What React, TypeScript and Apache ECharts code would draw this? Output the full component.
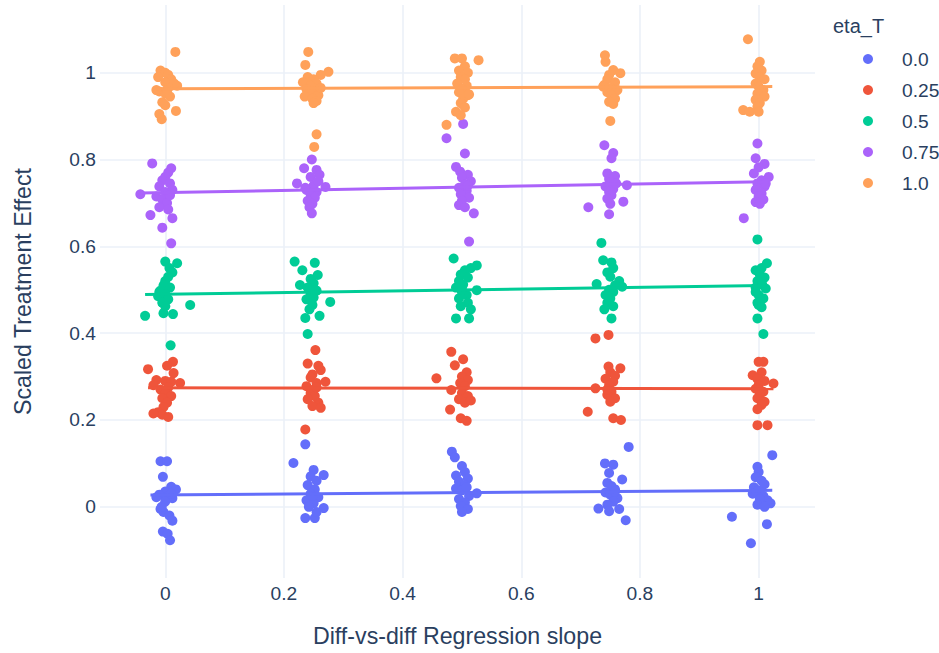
import React, { useEffect, useRef } from "react";
import * as echarts from "echarts";

const SERIES_NAMES = ["0.0", "0.25", "0.5", "0.75", "1.0"];
const COLORS = ["#636efa", "#EF553B", "#00cc96", "#ab63fa", "#FFA15A"];
const X_TITLE = "Diff-vs-diff Regression slope";
const Y_TITLE = "Scaled Treatment Effect";
const LEGEND_TITLE = "eta_T";

// eta_T = 0.0
const pointsEta00: number[][] = [
  [-0.008, 0.105], [0.003, 0.105], [-0.004, 0.069], [0.01, 0.046], [0.018, 0.04], [0.0, 0.035], [-0.01, 0.028],
  [0.005, 0.025], [0.012, 0.02], [-0.015, 0.022], [0.0, 0.012], [-0.008, -0.005], [-0.003, -0.012], [0.007, -0.02],
  [0.012, -0.032], [-0.004, -0.057], [0.004, -0.062], [0.008, -0.077], [0.01, 0.03], [-0.006, 0.0],
  [0.236, 0.144], [0.216, 0.101], [0.25, 0.085], [0.267, 0.073], [0.245, 0.07], [0.255, 0.06], [0.24, 0.05],
  [0.252, 0.04], [0.245, 0.03], [0.258, 0.022], [0.238, 0.015], [0.25, 0.008], [0.242, 0.0], [0.267, -0.003],
  [0.236, -0.026], [0.252, -0.026], [0.248, 0.025], [0.255, -0.012],
  [0.483, 0.127], [0.488, 0.114], [0.5, 0.094], [0.505, 0.08], [0.49, 0.072], [0.51, 0.065], [0.495, 0.058],
  [0.505, 0.05], [0.49, 0.042], [0.5, 0.038], [0.512, 0.025], [0.525, 0.031], [0.495, 0.018], [0.505, 0.01],
  [0.498, 0.002], [0.51, -0.005], [0.5, -0.012], [0.508, 0.045],
  [0.781, 0.138], [0.741, 0.1], [0.755, 0.097], [0.77, 0.063], [0.748, 0.078], [0.745, 0.055], [0.752, 0.048],
  [0.758, 0.04], [0.742, 0.033], [0.75, 0.028], [0.762, 0.02], [0.755, 0.012], [0.745, 0.005], [0.73, -0.004],
  [0.765, -0.005], [0.748, -0.01], [0.776, -0.031], [0.758, 0.035],
  [1.023, 0.119], [0.998, 0.092], [1.0, 0.08], [0.995, 0.068], [1.005, 0.06], [1.01, 0.052], [0.992, 0.045],
  [1.0, 0.038], [0.99, 0.03], [1.008, 0.025], [1.015, 0.015], [1.02, 0.008], [1.002, 0.018], [0.998, 0.005],
  [1.01, 0.0], [0.955, -0.023], [1.014, -0.04], [0.987, -0.084],
];

// eta_T = 0.25
const pointsEta025: number[][] = [
  [0.013, 0.334], [-0.029, 0.317], [0.003, 0.325], [0.014, 0.308], [-0.015, 0.292], [0.0, 0.29], [0.01, 0.288],
  [0.025, 0.285], [-0.02, 0.28], [0.005, 0.275], [-0.008, 0.27], [0.0, 0.262], [0.01, 0.255], [-0.005, 0.25],
  [0.003, 0.24], [-0.003, 0.23], [-0.012, 0.218], [-0.005, 0.212], [0.005, 0.207], [-0.02, 0.215],
  [0.253, 0.361], [0.24, 0.33], [0.258, 0.325], [0.262, 0.315], [0.248, 0.305], [0.27, 0.288], [0.245, 0.298],
  [0.255, 0.285], [0.238, 0.278], [0.25, 0.27], [0.245, 0.262], [0.252, 0.255], [0.24, 0.248], [0.258, 0.24],
  [0.248, 0.232], [0.262, 0.228], [0.236, 0.178], [0.255, 0.275],
  [0.482, 0.357], [0.502, 0.34], [0.488, 0.326], [0.457, 0.296], [0.508, 0.31], [0.5, 0.3], [0.51, 0.292],
  [0.497, 0.285], [0.505, 0.278], [0.482, 0.269], [0.5, 0.262], [0.51, 0.255], [0.495, 0.248], [0.505, 0.24],
  [0.515, 0.245], [0.48, 0.224], [0.498, 0.204], [0.508, 0.198],
  [0.725, 0.388], [0.747, 0.396], [0.747, 0.323], [0.767, 0.319], [0.75, 0.31], [0.758, 0.302], [0.742, 0.295],
  [0.755, 0.288], [0.748, 0.28], [0.725, 0.273], [0.752, 0.265], [0.745, 0.258], [0.758, 0.25], [0.75, 0.242],
  [0.712, 0.219], [0.755, 0.204], [0.768, 0.2], [0.745, 0.27],
  [1.0, 0.334], [1.008, 0.334], [0.99, 0.303], [1.025, 0.284], [1.005, 0.31], [0.998, 0.295], [1.01, 0.29],
  [1.0, 0.28], [0.995, 0.272], [1.008, 0.265], [1.002, 0.258], [0.998, 0.25], [1.01, 0.242], [1.005, 0.235],
  [0.998, 0.225], [0.998, 0.188], [1.015, 0.188], [1.0, 0.27],
];

// eta_T = 0.5
const pointsEta05: number[][] = [
  [0.0, 0.565], [0.02, 0.561], [0.007, 0.55], [0.012, 0.54], [0.005, 0.53], [0.0, 0.52], [-0.003, 0.51],
  [0.008, 0.505], [-0.008, 0.498], [0.0, 0.49], [-0.012, 0.485], [0.005, 0.478], [-0.005, 0.47], [0.0, 0.462],
  [0.042, 0.465], [-0.034, 0.44], [-0.003, 0.446], [0.013, 0.444], [0.009, 0.372], [-0.01, 0.495],
  [0.218, 0.565], [0.231, 0.545], [0.252, 0.562], [0.257, 0.534], [0.227, 0.511], [0.245, 0.525], [0.25, 0.515],
  [0.24, 0.505], [0.255, 0.498], [0.245, 0.49], [0.25, 0.482], [0.238, 0.478], [0.278, 0.472], [0.248, 0.465],
  [0.243, 0.455], [0.236, 0.435], [0.26, 0.44], [0.24, 0.398], [0.252, 0.5],
  [0.486, 0.572], [0.525, 0.556], [0.515, 0.55], [0.505, 0.545], [0.498, 0.535], [0.51, 0.528], [0.495, 0.52],
  [0.502, 0.512], [0.49, 0.505], [0.525, 0.499], [0.5, 0.495], [0.508, 0.488], [0.495, 0.48], [0.51, 0.47],
  [0.498, 0.462], [0.515, 0.455], [0.49, 0.434], [0.512, 0.434], [0.5, 0.5],
  [0.735, 0.608], [0.738, 0.568], [0.752, 0.563], [0.755, 0.55], [0.745, 0.54], [0.75, 0.53], [0.765, 0.52],
  [0.727, 0.513], [0.77, 0.507], [0.748, 0.5], [0.755, 0.495], [0.742, 0.488], [0.75, 0.48], [0.745, 0.47],
  [0.755, 0.462], [0.74, 0.455], [0.752, 0.434], [0.758, 0.51],
  [0.998, 0.616], [1.014, 0.561], [0.995, 0.545], [1.005, 0.55], [1.002, 0.535], [1.01, 0.528], [0.998, 0.52],
  [1.006, 0.512], [1.012, 0.503], [0.995, 0.495], [1.0, 0.488], [1.008, 0.48], [0.998, 0.47], [1.0, 0.465],
  [1.005, 0.46], [0.998, 0.434], [1.008, 0.398], [0.995, 0.505],
];

// eta_T = 0.75
const pointsEta075: number[][] = [
  [-0.022, 0.791], [0.01, 0.78], [0.005, 0.77], [0.0, 0.76], [-0.005, 0.752], [0.008, 0.745], [-0.01, 0.738],
  [0.012, 0.73], [0.0, 0.725], [-0.042, 0.72], [-0.015, 0.715], [-0.005, 0.708], [0.003, 0.7], [-0.01, 0.69],
  [0.005, 0.685], [-0.025, 0.672], [0.012, 0.665], [-0.005, 0.643], [0.01, 0.607], [0.008, 0.718],
  [0.247, 0.8], [0.234, 0.78], [0.255, 0.776], [0.26, 0.765], [0.245, 0.76], [0.222, 0.745], [0.27, 0.737],
  [0.25, 0.74], [0.238, 0.73], [0.255, 0.725], [0.245, 0.72], [0.252, 0.712], [0.24, 0.705], [0.248, 0.698],
  [0.243, 0.69], [0.247, 0.676], [0.258, 0.75], [0.236, 0.735],
  [0.502, 0.882], [0.474, 0.849], [0.505, 0.814], [0.49, 0.783], [0.497, 0.772], [0.51, 0.765], [0.5, 0.758],
  [0.515, 0.75], [0.505, 0.742], [0.495, 0.735], [0.508, 0.728], [0.498, 0.72], [0.512, 0.712], [0.5, 0.705],
  [0.495, 0.695], [0.505, 0.69], [0.52, 0.676], [0.51, 0.74], [0.512, 0.611],
  [0.74, 0.833], [0.755, 0.815], [0.752, 0.803], [0.745, 0.768], [0.758, 0.762], [0.748, 0.755], [0.752, 0.748],
  [0.778, 0.741], [0.742, 0.738], [0.755, 0.732], [0.748, 0.725], [0.752, 0.718], [0.745, 0.71], [0.772, 0.703],
  [0.713, 0.69], [0.75, 0.698], [0.748, 0.674], [0.76, 0.745],
  [0.998, 0.837], [0.995, 0.803], [1.01, 0.79], [1.0, 0.782], [1.017, 0.76], [0.992, 0.768], [1.005, 0.752],
  [0.998, 0.745], [1.01, 0.738], [0.995, 0.73], [1.005, 0.722], [1.0, 0.715], [1.008, 0.708], [0.995, 0.702],
  [1.002, 0.698], [0.975, 0.665], [1.012, 0.745],
];

// eta_T = 1.0
const pointsEta10: number[][] = [
  [0.017, 1.048], [-0.008, 1.005], [0.0, 1.0], [0.005, 0.995], [-0.012, 0.99], [0.01, 0.985], [0.0, 0.978],
  [0.02, 0.97], [0.015, 0.975], [0.005, 0.965], [-0.01, 0.957], [0.0, 0.952], [0.008, 0.945], [-0.005, 0.932],
  [0.0, 0.925], [0.018, 0.912], [-0.01, 0.905], [-0.006, 0.893], [0.003, 0.96], [-0.015, 0.96],
  [0.241, 1.048], [0.236, 1.018], [0.275, 1.002], [0.262, 0.995], [0.24, 0.99], [0.25, 0.985], [0.232, 0.978],
  [0.255, 0.975], [0.245, 0.97], [0.238, 0.962], [0.252, 0.958], [0.243, 0.952], [0.258, 0.948], [0.235, 0.945],
  [0.248, 0.94], [0.255, 0.935], [0.25, 0.93], [0.262, 0.965], [0.255, 0.858], [0.251, 0.829],
  [0.488, 1.033], [0.5, 1.033], [0.528, 1.029], [0.505, 1.015], [0.495, 1.005], [0.51, 1.0], [0.498, 0.99],
  [0.505, 0.985], [0.492, 0.975], [0.508, 0.97], [0.5, 0.962], [0.495, 0.955], [0.51, 0.948], [0.502, 0.94],
  [0.498, 0.93], [0.505, 0.92], [0.49, 0.91], [0.498, 0.902], [0.474, 0.88], [0.512, 0.95],
  [0.741, 1.04], [0.742, 1.025], [0.755, 1.006], [0.767, 0.999], [0.748, 0.995], [0.745, 0.985], [0.758, 0.978],
  [0.74, 0.972], [0.75, 0.965], [0.762, 0.96], [0.745, 0.955], [0.752, 0.948], [0.758, 0.94], [0.748, 0.933],
  [0.755, 0.928], [0.75, 0.889], [0.738, 0.968],
  [0.982, 1.077], [1.002, 1.025], [0.998, 1.015], [1.005, 1.005], [0.995, 0.998], [1.002, 0.99], [1.01, 0.985],
  [0.995, 0.975], [1.0, 0.968], [1.008, 0.96], [0.998, 0.952], [1.01, 0.945], [0.995, 0.938], [1.002, 0.93],
  [0.998, 0.922], [0.974, 0.914], [0.985, 0.91], [1.0, 0.91],
];

// OLS trendline endpoints per eta_T
const trendEta00: number[][] = [[-0.025, 0.027], [1.023, 0.038]];
const trendEta025: number[][] = [[-0.029, 0.274], [1.025, 0.272]];
const trendEta05: number[][] = [[-0.034, 0.489], [1.014, 0.51]];
const trendEta075: number[][] = [[-0.042, 0.723], [1.017, 0.749]];
const trendEta10: number[][] = [[-0.015, 0.963], [1.023, 0.968]];

const ALL_POINTS = [pointsEta00, pointsEta025, pointsEta05, pointsEta075, pointsEta10];
const ALL_TRENDS = [trendEta00, trendEta025, trendEta05, trendEta075, trendEta10];

const X_MIN = -0.11;
const X_MAX = 1.095;
const Y_MIN = -0.164;
const Y_MAX = 1.156;

const FONT = "'Liberation Sans', Arial, Helvetica, sans-serif";
const TEXT_COLOR = "#2a3f5f";
const GRID_COLOR = "#EBF0F8";

export default function App() {
  const ref = useRef<HTMLDivElement>(null);

  useEffect(() => {
    document.body.style.margin = "0";
    if (!ref.current) return;
    const chart = echarts.init(ref.current, undefined, { renderer: "svg" });

    const series: any[] = [];
    SERIES_NAMES.forEach((name, i) => {
      series.push({
        name,
        type: "scatter",
        data: ALL_POINTS[i],
        symbol: "circle",
        symbolSize: 10,
        itemStyle: { color: COLORS[i], opacity: 1 },
        z: 2 + i * 2,
      });
      series.push({
        name: name + " trend",
        type: "line",
        data: ALL_TRENDS[i],
        symbol: "none",
        lineStyle: { color: COLORS[i], width: 3 },
        itemStyle: { color: COLORS[i] },
        z: 3 + i * 2,
      });
    });

    const axisCommon = {
      type: "value",
      splitNumber: 6,
      minInterval: 0.2,
      maxInterval: 0.2,
      axisLine: { show: false },
      axisTick: { show: false },
      splitLine: {
        show: true,
        showMinLine: false,
        showMaxLine: false,
        lineStyle: { color: GRID_COLOR, width: 1.6 },
      },
      nameTextStyle: { color: TEXT_COLOR, fontFamily: FONT, fontSize: 23.2 },
    };

    chart.setOption({
      animation: false,
      backgroundColor: "#ffffff",
      textStyle: { fontFamily: FONT },
      grid: { left: 100, right: 124, top: 5, bottom: 75, containLabel: false },
      xAxis: {
        ...axisCommon,
        min: X_MIN,
        max: X_MAX,
        name: X_TITLE,
        nameLocation: "middle",
        nameGap: 46,
        axisLabel: {
          color: TEXT_COLOR,
          fontFamily: FONT,
          fontSize: 19.2,
          margin: 6,
          showMinLabel: false,
          showMaxLabel: false,
        },
      },
      yAxis: {
        ...axisCommon,
        min: Y_MIN,
        max: Y_MAX,
        name: Y_TITLE,
        nameLocation: "middle",
        nameGap: 66,
        axisLabel: {
          color: TEXT_COLOR,
          fontFamily: FONT,
          fontSize: 19.2,
          margin: 4,
          showMinLabel: false,
          showMaxLabel: false,
        },
      },
      legend: {
        data: SERIES_NAMES,
        orient: "vertical",
        left: 858,
        top: 44,
        icon: "circle",
        itemWidth: 10,
        itemHeight: 10,
        itemGap: 11,
        textStyle: {
          color: TEXT_COLOR,
          fontFamily: FONT,
          fontSize: 19.2,
          lineHeight: 20,
          padding: [0, 0, 0, 24],
        },
      },
      graphic: [
        {
          type: "text",
          left: 833,
          top: 16,
          style: {
            text: LEGEND_TITLE,
            fill: TEXT_COLOR,
            font: `20px ${FONT}`,
          },
        },
      ],
      series,
    });

    return () => chart.dispose();
  }, []);

  return <div ref={ref} style={{ width: 939, height: 653 }} />;
}
